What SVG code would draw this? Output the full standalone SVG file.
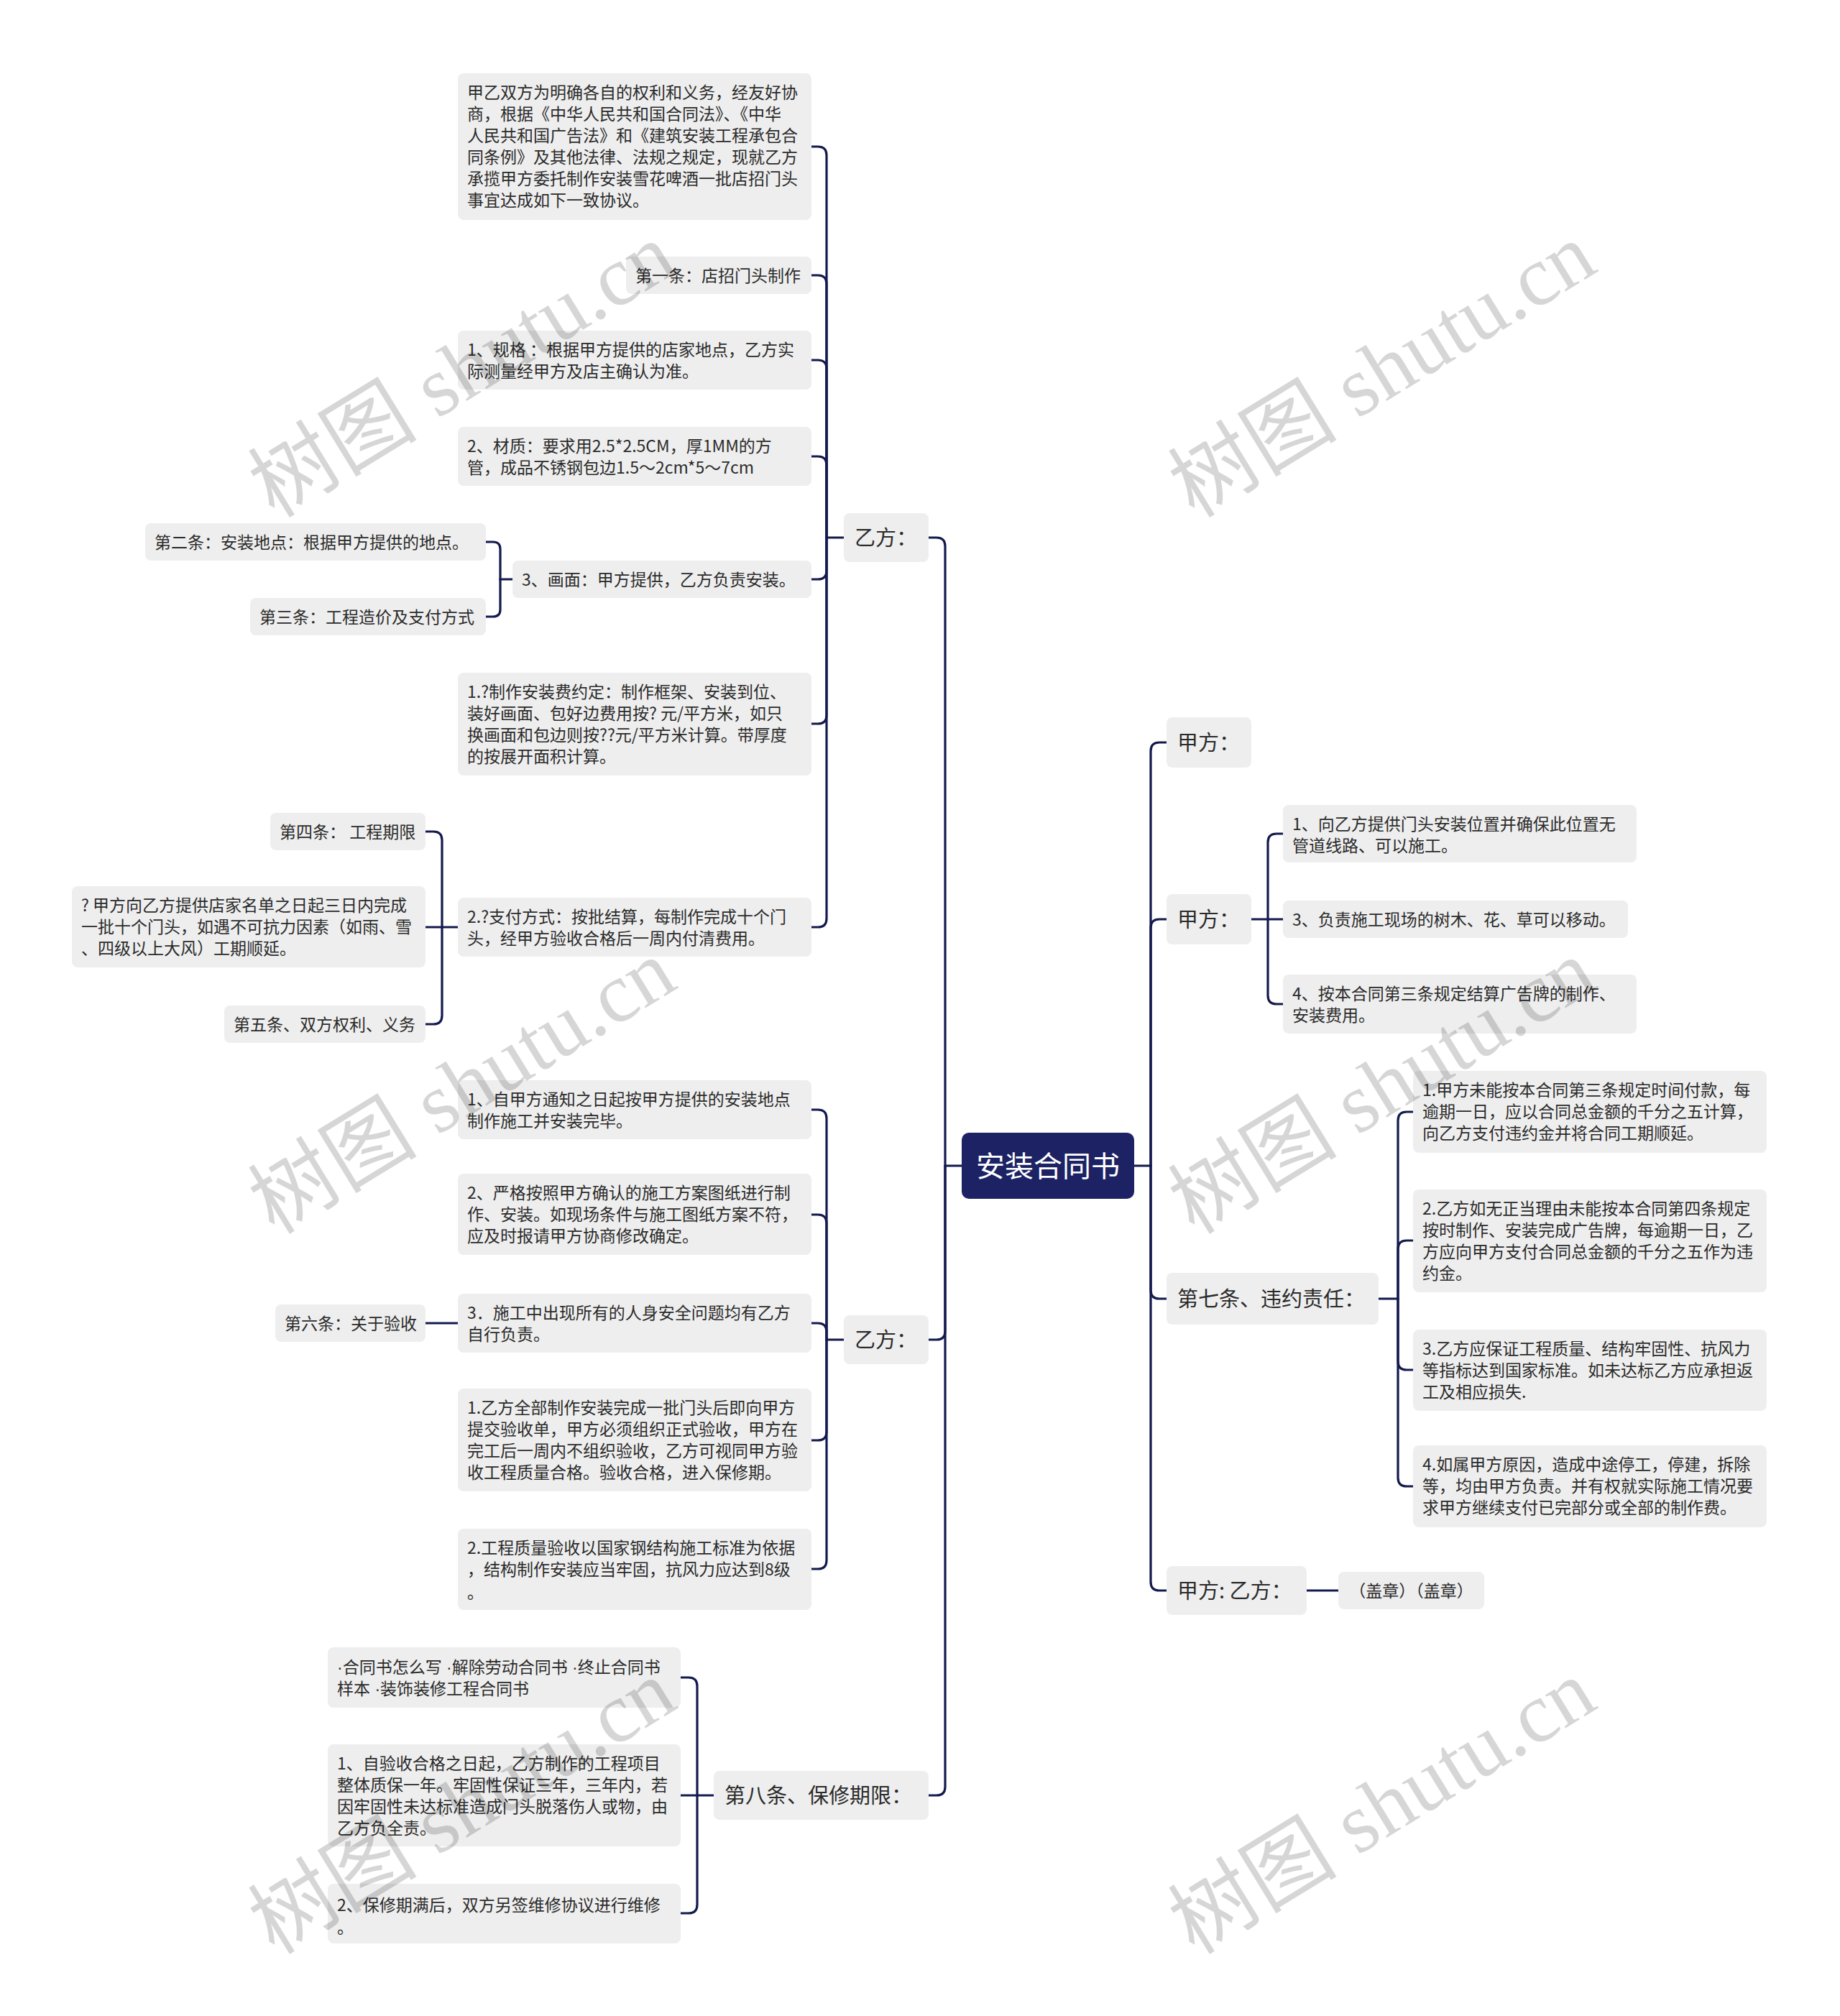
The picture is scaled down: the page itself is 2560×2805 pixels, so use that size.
<svg xmlns="http://www.w3.org/2000/svg" width="2560" height="2805" viewBox="0 0 2560 2805">
<style>
.bg{fill:#ffffff}
.n rect{fill:#eeeeee}
.t{font-family:"Noto Sans CJK SC","Noto Sans",sans-serif;font-size:23px;fill:#2b2b2b}
.tl{font-family:"Liberation Sans","Noto Sans CJK SC",sans-serif;font-size:23px;fill:#2b2b2b}
.t1{font-family:"Noto Sans CJK SC","Noto Sans",sans-serif;font-size:29px;fill:#2b2b2b}
.root rect{fill:#1c2263}
.rt{font-family:"Noto Sans CJK SC","Noto Sans",sans-serif;font-size:40px;fill:#ffffff}
.c path{fill:none;stroke:#141a4e;stroke-width:3.2;stroke-linecap:round}
.wm{font-family:"Liberation Serif","Noto Sans CJK SC",serif;font-size:118px;fill:#000;fill-opacity:0.16}
</style>
<rect class="bg" x="0" y="0" width="2560" height="2805"/>

<g id="connectors" class="c">
<path d="M1338,1622 H1315"/>
<path d="M1292,748 H1303 Q1315,748 1315,760 V1622"/>
<path d="M1292,1864 H1303 Q1315,1864 1315,1852 V1622"/>
<path d="M1292,2498 H1303 Q1315,2498 1315,2486 V1622"/>
<path d="M1174,748 H1150"/>
<path d="M1129,204 H1138 Q1150,204 1150,216 V748"/>
<path d="M1129,383 H1138 Q1150,383 1150,395 V748"/>
<path d="M1129,501 H1138 Q1150,501 1150,513 V748"/>
<path d="M1129,635 H1138 Q1150,635 1150,647 V748"/>
<path d="M1129,806 H1138 Q1150,806 1150,794 V748"/>
<path d="M1129,1007 H1138 Q1150,1007 1150,995 V748"/>
<path d="M1129,1290 H1138 Q1150,1290 1150,1278 V748"/>
<path d="M713,806 H696"/>
<path d="M676,754 H686 Q696,754 696,764 V806"/>
<path d="M676,858 H686 Q696,858 696,848 V806"/>
<path d="M637,1290 H615"/>
<path d="M592,1157 H603 Q615,1157 615,1169 V1290"/>
<path d="M592,1290 H615"/>
<path d="M592,1425 H603 Q615,1425 615,1413 V1290"/>
<path d="M1174,1864 H1150"/>
<path d="M1129,1544 H1138 Q1150,1544 1150,1556 V1864"/>
<path d="M1129,1690 H1138 Q1150,1690 1150,1702 V1864"/>
<path d="M1129,1841 H1138 Q1150,1841 1150,1853 V1864"/>
<path d="M1129,2004 H1138 Q1150,2004 1150,1992 V1864"/>
<path d="M1129,2183 H1138 Q1150,2183 1150,2171 V1864"/>
<path d="M592,1841 H637"/>
<path d="M993,2498 H970"/>
<path d="M947,2334 H958 Q970,2334 970,2346 V2498"/>
<path d="M947,2498 H970"/>
<path d="M947,2662 H958 Q970,2662 970,2650 V2498"/>
<path d="M1578,1622 H1601"/>
<path d="M1623,1033 H1613 Q1601,1033 1601,1045 V1622"/>
<path d="M1623,1279 H1613 Q1601,1279 1601,1291 V1622"/>
<path d="M1623,1807 H1613 Q1601,1807 1601,1795 V1622"/>
<path d="M1623,2213 H1613 Q1601,2213 1601,2201 V1622"/>
<path d="M1741,1279 H1764"/>
<path d="M1785,1160 H1776 Q1764,1160 1764,1172 V1279"/>
<path d="M1785,1279 H1764"/>
<path d="M1785,1397 H1776 Q1764,1397 1764,1385 V1279"/>
<path d="M1918,1807 H1945"/>
<path d="M1966,1547 H1957 Q1945,1547 1945,1559 V1807"/>
<path d="M1966,1726 H1957 Q1945,1726 1945,1738 V1807"/>
<path d="M1966,1906 H1957 Q1945,1906 1945,1894 V1807"/>
<path d="M1966,2068 H1957 Q1945,2068 1945,2056 V1807"/>
<path d="M1818,2213 H1862"/>
</g>

<g id="root" class="root">
<rect x="1338" y="1576" width="240" height="92" rx="10"/>
<text class="rt" x="1458" y="1637" text-anchor="middle">安装合同书</text>
</g>

<g id="yi1" class="n">
<rect x="1174" y="714" width="118" height="68" rx="8"/>
<text class="t1" x="1189" y="759">乙方：</text>
</g>
<g id="intro" class="n">
<rect x="637" y="102" width="492" height="204" rx="8"/>
<text class="t"><tspan x="650" y="137">甲乙双方为明确各自的权利和义务，经友好协</tspan><tspan x="650" y="167">商，根据《中华人民共和国合同法》、《中华</tspan><tspan x="650" y="197">人民共和国广告法》和《建筑安装工程承包合</tspan><tspan x="650" y="227">同条例》及其他法律、法规之规定，现就乙方</tspan><tspan x="650" y="257">承揽甲方委托制作安装雪花啤酒一批店招门头</tspan><tspan x="650" y="287">事宜达成如下一致协议。</tspan></text>
</g>
<g id="art1" class="n">
<rect x="871" y="357" width="258" height="52" rx="8"/>
<text class="t" x="884" y="392">第一条：店招门头制作</text>
</g>
<g id="guige" class="n">
<rect x="637" y="460" width="492" height="82" rx="8"/>
<text class="t"><tspan x="650" y="495">1、规格 ：根据甲方提供的店家地点，乙方实</tspan><tspan x="650" y="525">际测量经甲方及店主确认为准。</tspan></text>
</g>
<g id="caizhi" class="n">
<rect x="637" y="594" width="492" height="82" rx="8"/>
<text class="t"><tspan x="650" y="629">2、材质：要求用2.5*2.5CM，厚1MM的方</tspan><tspan x="650" y="659">管，成品不锈钢包边1.5～2cm*5～7cm</tspan></text>
</g>
<g id="huamian" class="n">
<rect x="713" y="780" width="416" height="52" rx="8"/>
<text class="t" x="726" y="815">3、画面：甲方提供，乙方负责安装。</text>
</g>
<g id="art2" class="n">
<rect x="202" y="728" width="474" height="52" rx="8"/>
<text class="t" x="215" y="763">第二条：安装地点：根据甲方提供的地点。</text>
</g>
<g id="art3" class="n">
<rect x="348" y="832" width="328" height="52" rx="8"/>
<text class="t" x="361" y="867">第三条：工程造价及支付方式</text>
</g>
<g id="fee" class="n">
<rect x="637" y="936" width="492" height="143" rx="8"/>
<text class="t"><tspan x="650" y="971">1.?制作安装费约定：制作框架、安装到位、</tspan><tspan x="650" y="1001">装好画面、包好边费用按? 元/平方米，如只</tspan><tspan x="650" y="1031">换画面和包边则按??元/平方米计算。带厚度</tspan><tspan x="650" y="1061">的按展开面积计算。</tspan></text>
</g>
<g id="pay" class="n">
<rect x="637" y="1249" width="492" height="82" rx="8"/>
<text class="t"><tspan x="650" y="1284">2.?支付方式：按批结算，每制作完成十个门</tspan><tspan x="650" y="1314">头，经甲方验收合格后一周内付清费用。</tspan></text>
</g>
<g id="art4" class="n">
<rect x="376" y="1131" width="216" height="52" rx="8"/>
<text class="t" x="389" y="1166">第四条： 工程期限</text>
</g>
<g id="schedule" class="n">
<rect x="100" y="1233" width="492" height="113" rx="8"/>
<text class="t"><tspan x="113" y="1268">? 甲方向乙方提供店家名单之日起三日内完成</tspan><tspan x="113" y="1298">一批十个门头，如遇不可抗力因素（如雨、雪</tspan><tspan x="113" y="1328">、四级以上大风）工期顺延。</tspan></text>
</g>
<g id="art5" class="n">
<rect x="312" y="1399" width="280" height="52" rx="8"/>
<text class="t" x="325" y="1434">第五条、双方权利、义务</text>
</g>

<g id="yi2" class="n">
<rect x="1174" y="1830" width="118" height="68" rx="8"/>
<text class="t1" x="1189" y="1875">乙方：</text>
</g>
<g id="y2a" class="n">
<rect x="637" y="1503" width="492" height="82" rx="8"/>
<text class="t"><tspan x="650" y="1538">1、自甲方通知之日起按甲方提供的安装地点</tspan><tspan x="650" y="1568">制作施工并安装完毕。</tspan></text>
</g>
<g id="y2b" class="n">
<rect x="637" y="1633" width="492" height="113" rx="8"/>
<text class="t"><tspan x="650" y="1668">2、严格按照甲方确认的施工方案图纸进行制</tspan><tspan x="650" y="1698">作、安装。如现场条件与施工图纸方案不符，</tspan><tspan x="650" y="1728">应及时报请甲方协商修改确定。</tspan></text>
</g>
<g id="y2c" class="n">
<rect x="637" y="1800" width="492" height="82" rx="8"/>
<text class="t"><tspan x="650" y="1835">3．施工中出现所有的人身安全问题均有乙方</tspan><tspan x="650" y="1865">自行负责。</tspan></text>
</g>
<g id="art6" class="n">
<rect x="383" y="1815" width="209" height="52" rx="8"/>
<text class="t" x="396" y="1850">第六条：关于验收</text>
</g>
<g id="y2d" class="n">
<rect x="637" y="1932" width="492" height="143" rx="8"/>
<text class="t"><tspan x="650" y="1967">1.乙方全部制作安装完成一批门头后即向甲方</tspan><tspan x="650" y="1997">提交验收单，甲方必须组织正式验收，甲方在</tspan><tspan x="650" y="2027">完工后一周内不组织验收，乙方可视同甲方验</tspan><tspan x="650" y="2057">收工程质量合格。验收合格，进入保修期。</tspan></text>
</g>
<g id="y2e" class="n">
<rect x="637" y="2127" width="492" height="113" rx="8"/>
<text class="t"><tspan x="650" y="2162">2.工程质量验收以国家钢结构施工标准为依据</tspan><tspan x="650" y="2192">，结构制作安装应当牢固，抗风力应达到8级</tspan><tspan x="650" y="2224">。</tspan></text>
</g>

<g id="art8" class="n">
<rect x="993" y="2464" width="299" height="68" rx="8"/>
<text class="t1" x="1008" y="2509">第八条、保修期限：</text>
</g>
<g id="b8a" class="n">
<rect x="456" y="2292" width="491" height="84" rx="8"/>
<text class="tl"><tspan x="469" y="2328">·合同书怎么写 ·解除劳动合同书 ·终止合同书</tspan><tspan x="469" y="2358">样本 ·装饰装修工程合同书</tspan></text>
</g>
<g id="b8b" class="n">
<rect x="456" y="2427" width="491" height="142" rx="8"/>
<text class="t"><tspan x="469" y="2462">1、自验收合格之日起，乙方制作的工程项目</tspan><tspan x="469" y="2492">整体质保一年。牢固性保证三年，三年内，若</tspan><tspan x="469" y="2522">因牢固性未达标准造成门头脱落伤人或物，由</tspan><tspan x="469" y="2552">乙方负全责。</tspan></text>
</g>
<g id="b8c" class="n">
<rect x="456" y="2621" width="491" height="83" rx="8"/>
<text class="t"><tspan x="469" y="2659">2、保修期满后，双方另签维修协议进行维修</tspan><tspan x="469" y="2690">。</tspan></text>
</g>

<g id="jia1" class="n">
<rect x="1623" y="998" width="118" height="70" rx="8"/>
<text class="t1" x="1638" y="1044">甲方：</text>
</g>
<g id="jia2" class="n">
<rect x="1623" y="1244" width="118" height="70" rx="8"/>
<text class="t1" x="1638" y="1290">甲方：</text>
</g>
<g id="j2a" class="n">
<rect x="1785" y="1120" width="492" height="80" rx="8"/>
<text class="t"><tspan x="1798" y="1155">1、向乙方提供门头安装位置并确保此位置无</tspan><tspan x="1798" y="1185">管道线路、可以施工。</tspan></text>
</g>
<g id="j2b" class="n">
<rect x="1785" y="1253" width="480" height="52" rx="8"/>
<text class="t" x="1798" y="1288">3、负责施工现场的树木、花、草可以移动。</text>
</g>
<g id="j2c" class="n">
<rect x="1785" y="1356" width="492" height="82" rx="8"/>
<text class="t"><tspan x="1798" y="1391">4、按本合同第三条规定结算广告牌的制作、</tspan><tspan x="1798" y="1421">安装费用。</tspan></text>
</g>
<g id="art7" class="n">
<rect x="1623" y="1771" width="295" height="72" rx="8"/>
<text class="t1" x="1638" y="1818">第七条、违约责任：</text>
</g>
<g id="w1" class="n">
<rect x="1966" y="1490" width="492" height="114" rx="8"/>
<text class="t"><tspan x="1979" y="1525">1.甲方未能按本合同第三条规定时间付款，每</tspan><tspan x="1979" y="1555">逾期一日，应以合同总金额的千分之五计算，</tspan><tspan x="1979" y="1585">向乙方支付违约金并将合同工期顺延。</tspan></text>
</g>
<g id="w2" class="n">
<rect x="1966" y="1655" width="492" height="143" rx="8"/>
<text class="t"><tspan x="1979" y="1690">2.乙方如无正当理由未能按本合同第四条规定</tspan><tspan x="1979" y="1720">按时制作、安装完成广告牌，每逾期一日，乙</tspan><tspan x="1979" y="1750">方应向甲方支付合同总金额的千分之五作为违</tspan><tspan x="1979" y="1780">约金。</tspan></text>
</g>
<g id="w3" class="n">
<rect x="1966" y="1850" width="492" height="113" rx="8"/>
<text class="t"><tspan x="1979" y="1885">3.乙方应保证工程质量、结构牢固性、抗风力</tspan><tspan x="1979" y="1915">等指标达到国家标准。如未达标乙方应承担返</tspan><tspan x="1979" y="1945">工及相应损失.</tspan></text>
</g>
<g id="w4" class="n">
<rect x="1966" y="2011" width="492" height="114" rx="8"/>
<text class="t"><tspan x="1979" y="2046">4.如属甲方原因，造成中途停工，停建，拆除</tspan><tspan x="1979" y="2076">等，均由甲方负责。并有权就实际施工情况要</tspan><tspan x="1979" y="2106">求甲方继续支付已完部分或全部的制作费。</tspan></text>
</g>
<g id="sign" class="n">
<rect x="1623" y="2179" width="195" height="68" rx="8"/>
<text class="t1" x="1638" y="2224">甲方: 乙方：</text>
</g>
<g id="seal" class="n">
<rect x="1862" y="2187" width="203" height="52" rx="8"/>
<text class="t" x="1963.5" y="2222" text-anchor="middle">（盖章）（盖章）</text>
</g>

<g id="watermarks">
<text class="wm" text-anchor="middle" transform="translate(643,515) rotate(-31.5)" y="40">树图 shutu.cn</text>
<text class="wm" text-anchor="middle" transform="translate(1923,515) rotate(-31.5)" y="40">树图 shutu.cn</text>
<text class="wm" text-anchor="middle" transform="translate(643,1512) rotate(-31.5)" y="40">树图 shutu.cn</text>
<text class="wm" text-anchor="middle" transform="translate(1923,1512) rotate(-31.5)" y="40">树图 shutu.cn</text>
<text class="wm" text-anchor="middle" transform="translate(643,2514) rotate(-31.5)" y="40">树图 shutu.cn</text>
<text class="wm" text-anchor="middle" transform="translate(1923,2514) rotate(-31.5)" y="40">树图 shutu.cn</text>
</g>
</svg>
